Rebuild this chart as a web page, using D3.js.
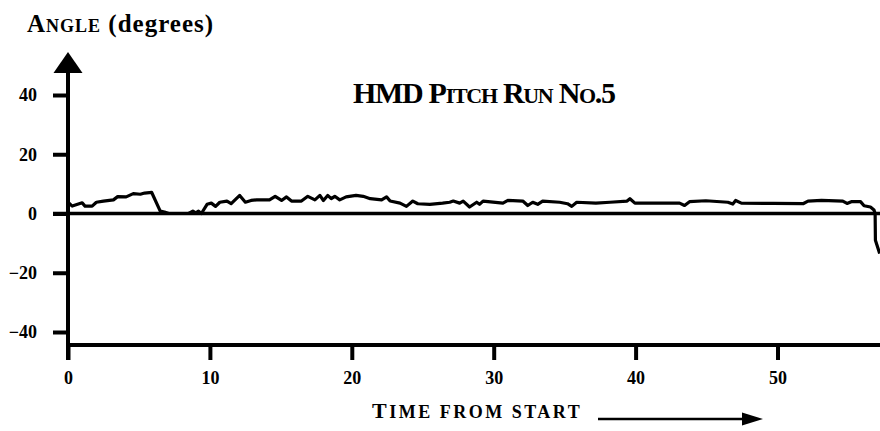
<!DOCTYPE html>
<html><head><meta charset="utf-8">
<script src="https://cdn.jsdelivr.net/npm/d3@7"></script>
<style>
html,body{margin:0;padding:0;background:#fff;}
svg{display:block;}
text{font-family:"Liberation Serif","Times New Roman",serif;font-weight:bold;fill:#000;}
</style></head>
<body><svg id="c" width="880" height="431"></svg>
<script>
const time = [0,0.3,1.0,1.2,1.7,2.0,2.5,3.2,3.5,4.1,4.6,5.1,5.4,5.9,6.5,6.8,7.1,8.5,8.8,9.0,9.2,9.4,9.8,10.1,10.4,10.7,11.2,11.5,12.1,12.5,12.9,13.3,14.2,14.6,15.05,15.4,15.75,16.45,16.9,17.4,17.75,18.0,18.3,18.55,18.8,19.15,19.6,20.3,20.8,21.3,22.1,22.45,22.7,23.4,23.85,24.3,24.65,25.5,26.4,26.9,27.15,27.6,27.85,28.3,28.8,29.0,29.25,30.65,31.0,32.05,32.4,32.75,33.1,33.45,34.65,35.2,35.5,35.85,37.2,38.2,39.4,39.6,39.95,41.7,43.1,43.45,43.8,44.95,46.5,46.85,47.05,47.45,49.7,51.8,52.15,53.1,54.6,54.9,55.2,55.85,56.1,56.55,56.8,56.88,56.9,57.2];
const angle = [3.8,2.5,3.6,2.5,2.5,3.8,4.2,4.6,5.7,5.6,6.7,6.5,6.9,7.1,0.8,0.5,0,0,0.8,0.2,0.8,0,3.1,3.5,2.4,3.8,4.2,3.3,6.1,3.8,4.4,4.6,4.6,5.8,4.4,5.6,4.2,4.2,5.8,4.6,6.1,4.4,6.1,5.0,5.8,4.6,5.6,6.1,5.8,5.0,4.6,5.6,4.2,3.5,2.4,4.2,3.3,3.1,3.5,3.8,4.2,3.5,4.2,2.2,3.8,3.1,4.2,3.5,4.4,4.2,2.7,3.8,3.1,4.2,3.8,3.3,2.4,3.8,3.5,3.8,4.2,5.0,3.5,3.5,3.5,2.7,4.0,4.3,3.8,3.2,4.4,3.5,3.4,3.3,4.2,4.4,4.2,3.4,4.0,4.0,2.6,2.2,1.2,0,-9,-13.5];
const xTicks = [0,10,20,30,40,50];
const yTicks = [40,20,0,-20,-40];

const svg = d3.select("#c");
const x = d3.scaleLinear().domain([0,50]).range([68,777.5]);
const y = d3.scaleLinear().domain([-40,40]).range([332,95]);
const xMax = x.invert(880);

// axis lines
svg.append("line").attr("x1",68).attr("x2",68).attr("y1",70).attr("y2",360)
  .attr("stroke","#000").attr("stroke-width",4);
svg.append("path").attr("d","M68,52 L53.5,73 L82.5,73 Z").attr("fill","#000");
svg.append("line").attr("x1",66).attr("x2",880).attr("y1",345).attr("y2",345)
  .attr("stroke","#000").attr("stroke-width",4);
svg.append("line").attr("x1",53).attr("x2",880).attr("y1",y(0)).attr("y2",y(0))
  .attr("stroke","#000").attr("stroke-width",3.5);

// y axis ticks
const gy = svg.append("g").attr("transform","translate(68,0)")
  .call(d3.axisLeft(y).tickValues(yTicks).tickSize(15).tickPadding(16).tickFormat(d3.format("d")));
gy.select(".domain").remove();
gy.selectAll(".tick line").attr("stroke","#000").attr("stroke-width",4);
gy.selectAll(".tick text").style("font-size","18px").attr("font-family",null).attr("dy","0.33em");

// x axis ticks
const gx = svg.append("g").attr("transform","translate(0,345)")
  .call(d3.axisBottom(x).tickValues(xTicks).tickSize(15).tickPadding(11).tickFormat(d3.format("d")));
gx.select(".domain").remove();
gx.selectAll(".tick line").attr("stroke","#000").attr("stroke-width",4);
gx.selectAll(".tick text").style("font-size","18px").attr("font-family",null);

// data line
svg.append("defs").append("clipPath").attr("id","cp").append("rect")
  .attr("x",0).attr("y",0).attr("width",x(xMax)).attr("height",431);
const pts = time.map((t,i)=>[t,angle[i]]);
svg.append("path").datum(pts).attr("clip-path","url(#cp)")
  .attr("d",d3.line().x(d=>x(d[0])).y(d=>y(d[1])))
  .attr("fill","none").attr("stroke","#000").attr("stroke-width",3.2).attr("stroke-linejoin","round");

// small-caps helper
function smallCaps(sel, parts, big, small){
  parts.forEach(p=>{
    sel.append("tspan").style("font-size",(p[1]?small:big)+"px").text(p[0]);
  });
}
const yl = svg.append("text").attr("x",27).attr("y",32).style("letter-spacing","1px");
smallCaps(yl, [["A",0],["NGLE",1],[" (degrees)",0]], 25, 18);

const tt = svg.append("text").attr("x",353).attr("y",103).style("letter-spacing","-1.3px");
smallCaps(tt, [["HMD P",0],["ITCH",1],[" R",0],["UN",1],[" N",0],["O",1],[".5",0]], 30, 22);

const xl = svg.append("text").attr("x",372).attr("y",418).style("letter-spacing","2.5px");
smallCaps(xl, [["T",0],["IME FROM START",1]], 22, 18);

svg.append("line").attr("x1",598).attr("x2",746).attr("y1",419).attr("y2",419)
  .attr("stroke","#000").attr("stroke-width",2.5);
svg.append("path").attr("d","M763,419 L742,412.5 L742,425.5 Z").attr("fill","#000");
</script></body></html>
